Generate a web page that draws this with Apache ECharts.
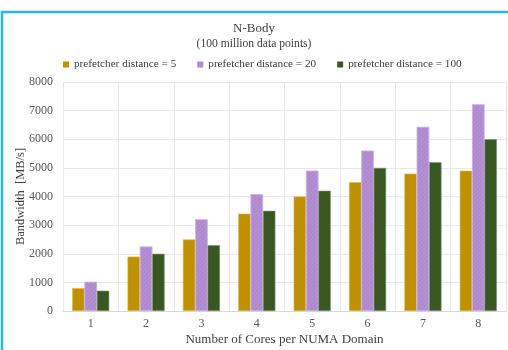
<!DOCTYPE html>
<html>
<head>
<meta charset="utf-8">
<script src="https://cdn.jsdelivr.net/npm/echarts@6/dist/echarts.min.js"></script>
<style>html,body{margin:0;padding:0;background:#fff;}#c{width:508px;height:350px;}</style>
</head>
<body>
<div id="c"></div>
<script>
var categories = ['1','2','3','4','5','6','7','8'];
var seriesNames = ['prefetcher distance = 5','prefetcher distance = 20','prefetcher distance = 100'];
var dist5 = [800, 1900, 2500, 3400, 4000, 4500, 4800, 4900];
var dist20 = [1020, 2250, 3200, 4080, 4900, 5600, 6430, 7220];
var dist100 = [710, 2000, 2300, 3500, 4200, 5000, 5200, 6000];
var yTicks = [0, 1000, 2000, 3000, 4000, 5000, 6000, 7000, 8000];

var font = 'Liberation Serif';
var colors = ['#bf9000', '#b58fd3', '#385723'];
var borders = ['#d8b85a', '#cdb2e4', '#7d9470'];
var chart = echarts.init(document.getElementById('c'), null, {renderer: 'canvas'});
var values = [dist5, dist20, dist100];
chart.setOption({
  animation: false,
  backgroundColor: '#fff',
  title: [
    {text: 'N-Body', left: 'center', top: 17, textStyle: {fontFamily: font, fontSize: 13, fontWeight: 'normal', color: '#404040'}},
    {text: '(100 million data points)', left: 'center', top: 33, textStyle: {fontFamily: font, fontSize: 11.6, fontWeight: 'normal', color: '#404040'}}
  ],
  legend: {
    data: seriesNames, left: 58, top: 54, icon: 'rect', itemWidth: 6, itemHeight: 6,
    itemGap: 21, itemTextGap: 2, itemStyle: {borderWidth: 0},
    textStyle: {fontFamily: font, fontSize: 11.2, color: '#404040'}
  },
  grid: {left: 63, right: 2, top: 82, bottom: 39, containLabel: false, outerBoundsMode: 'none'},
  xAxis: {
    type: 'category', data: categories,
    name: 'Number of Cores per NUMA Domain', nameLocation: 'middle', nameGap: 22, nameMoveOverlap: false,
    nameTextStyle: {fontFamily: font, fontSize: 13, color: '#404040'},
    axisLine: {lineStyle: {color: '#d9d9d9'}}, axisTick: {show: false},
    axisLabel: {fontFamily: font, fontSize: 12, color: '#595959', margin: 7},
    splitLine: {show: true, lineStyle: {color: '#e8e8e8'}}
  },
  yAxis: {
    type: 'value', min: yTicks[0], max: yTicks[yTicks.length - 1], interval: 1000,
    name: 'Bandwidth  [MB/s]', nameLocation: 'middle', nameGap: 36, nameMoveOverlap: false,
    nameTextStyle: {fontFamily: font, fontSize: 12.5, color: '#404040'},
    axisLine: {show: false}, axisTick: {show: false},
    axisLabel: {fontFamily: font, fontSize: 12, color: '#595959', margin: 10,
      formatter: function (v) { return String(v); }},
    splitLine: {lineStyle: {color: '#e8e8e8'}}
  },
  graphic: [{
    type: 'rect', shape: {x: 2, y: 12, width: 540, height: 400},
    style: {fill: 'none', stroke: '#29b5ec', lineWidth: 2.5}, silent: true, z: 100
  }],
  series: seriesNames.map(function (n, i) {
    var st = {color: colors[i], borderColor: borders[i], borderWidth: 0.6};
    if (i === 1) {
      st.decal = {symbol: 'rect', dashArrayX: [1, 0], dashArrayY: [1, 2], rotation: -Math.PI / 4, color: 'rgba(160,120,195,0.45)', symbolSize: 1};
    }
    return {name: n, type: 'bar', data: values[i], barGap: '0%', barCategoryGap: '33%', itemStyle: st};
  })
});
</script>
</body>
</html>
